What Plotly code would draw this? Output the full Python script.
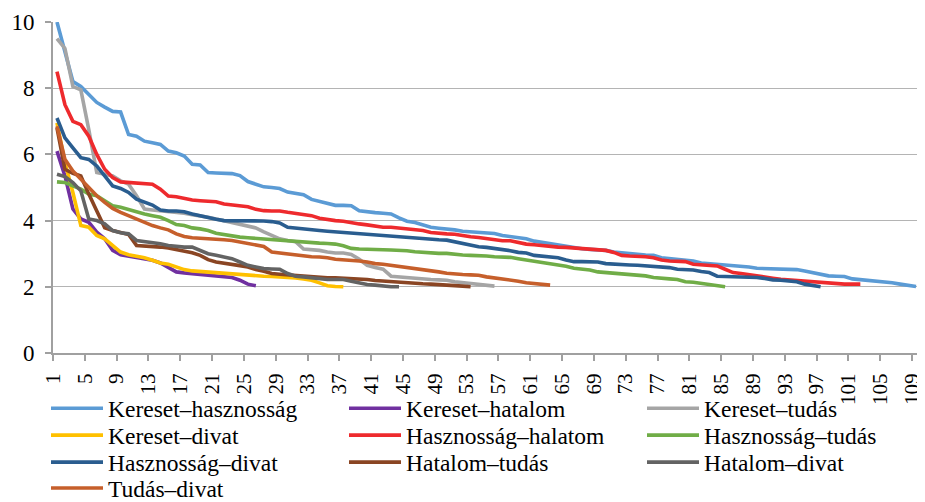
import plotly.graph_objects as go

series_names = ["Kereset–hasznosság", "Kereset–hatalom", "Kereset–tudás",
                "Kereset–divat", "Hasznosság–halatom", "Hasznosság–tudás",
                "Hasznosság–divat", "Hatalom–tudás", "Hatalom–divat", "Tudás–divat"]

kereset_hasznossag = [10.0, 9.05, 8.2, 8.05, 7.8, 7.57, 7.43, 7.3, 7.28, 6.6, 6.55, 6.4, 6.35, 6.3, 6.1, 6.05, 5.95, 5.7, 5.68, 5.45,
                      5.44, 5.43, 5.42, 5.36, 5.18, 5.1, 5.02, 5.0, 4.97, 4.86, 4.83, 4.78, 4.64, 4.58, 4.54, 4.46, 4.46, 4.45, 4.3, 4.26,
                      4.24, 4.22, 4.2, 4.08, 3.98, 3.94, 3.88, 3.8, 3.77, 3.75, 3.72, 3.68, 3.66, 3.64, 3.62, 3.61, 3.55, 3.52, 3.48, 3.45,
                      3.38, 3.34, 3.29, 3.26, 3.22, 3.18, 3.15, 3.13, 3.12, 3.1, 3.05, 3.02, 3.0, 2.98, 2.96, 2.95, 2.88, 2.85, 2.83, 2.8,
                      2.78, 2.72, 2.7, 2.68, 2.66, 2.65, 2.63, 2.6, 2.56, 2.55, 2.54, 2.53, 2.53, 2.52, 2.48, 2.43, 2.36, 2.33, 2.32, 2.31,
                      2.24, 2.22, 2.19, 2.17, 2.15, 2.12, 2.08, 2.04, 2.01]
kereset_hatalom = [6.1, 5.35, 4.35, 4.05, 3.95, 3.65, 3.45, 3.1, 2.97, 2.93, 2.9, 2.85, 2.8, 2.72, 2.58, 2.45, 2.42, 2.4, 2.38, 2.35,
                   2.33, 2.3, 2.28, 2.2, 2.08, 2.03]
kereset_tudas = [9.5, 9.2, 8.05, 7.95, 6.75, 5.45, 5.4, 5.35, 5.2, 5.1, 4.75, 4.35, 4.32, 4.3, 4.28, 4.25, 4.22, 4.18, 4.15, 4.1,
                 4.05, 4.0, 3.95, 3.9, 3.85, 3.78, 3.66, 3.55, 3.45, 3.4, 3.36, 3.14, 3.12, 3.1, 3.05, 3.02, 3.02, 2.98, 2.83, 2.65,
                 2.58, 2.53, 2.32, 2.3, 2.28, 2.25, 2.22, 2.22, 2.21, 2.2, 2.15, 2.12, 2.09, 2.07, 2.04, 2.02]
kereset_divat = [6.95, 5.75, 4.85, 3.85, 3.8, 3.55, 3.45, 3.25, 3.05, 2.97, 2.93, 2.88, 2.8, 2.72, 2.68, 2.6, 2.52, 2.48, 2.46, 2.44,
                 2.43, 2.41, 2.39, 2.38, 2.36, 2.34, 2.32, 2.31, 2.3, 2.29, 2.27, 2.24, 2.2, 2.12, 2.03, 2.01, 2.0]
hasznossag_halatom = [8.5, 7.5, 7.0, 6.9, 6.55, 6.0, 5.55, 5.3, 5.17, 5.15, 5.14, 5.13, 5.1, 4.95, 4.74, 4.72, 4.67, 4.62, 4.6, 4.59,
                      4.57, 4.5, 4.47, 4.44, 4.42, 4.34, 4.3, 4.29, 4.29, 4.25, 4.22, 4.18, 4.15, 4.07, 4.03, 4.0, 3.98, 3.93, 3.9, 3.87,
                      3.83, 3.8, 3.8, 3.77, 3.75, 3.72, 3.7, 3.64, 3.61, 3.6, 3.59, 3.54, 3.51, 3.49, 3.46, 3.41, 3.39, 3.39, 3.34, 3.29,
                      3.27, 3.24, 3.21, 3.2, 3.19, 3.17, 3.14, 3.12, 3.11, 3.1, 3.04, 2.95, 2.93, 2.93, 2.91, 2.88, 2.81, 2.78, 2.78, 2.76,
                      2.68, 2.66, 2.66, 2.63, 2.53, 2.43, 2.4, 2.36, 2.33, 2.3, 2.26, 2.23, 2.21, 2.2, 2.18, 2.16, 2.13, 2.1, 2.08, 2.08,
                      2.08, 2.08]
hasznossag_tudas = [5.17, 5.15, 5.05, 4.95, 4.8, 4.75, 4.6, 4.45, 4.4, 4.33, 4.27, 4.2, 4.15, 4.1, 4.0, 3.88, 3.85, 3.78, 3.75, 3.7,
                    3.62, 3.58, 3.52, 3.5, 3.48, 3.46, 3.44, 3.43, 3.42, 3.39, 3.36, 3.36, 3.34, 3.32, 3.31, 3.29, 3.24, 3.16, 3.14, 3.14,
                    3.14, 3.12, 3.11, 3.11, 3.09, 3.06, 3.04, 3.02, 3.01, 3.01, 2.98, 2.96, 2.95, 2.95, 2.93, 2.91, 2.9, 2.89, 2.85, 2.81,
                    2.78, 2.75, 2.71, 2.67, 2.62, 2.56, 2.53, 2.51, 2.45, 2.43, 2.4, 2.38, 2.36, 2.35, 2.33, 2.28, 2.25, 2.24, 2.22, 2.15,
                    2.14, 2.1, 2.07, 2.04, 2.0]
hasznossag_divat = [7.1, 6.5, 6.2, 5.9, 5.85, 5.65, 5.35, 5.05, 4.97, 4.85, 4.65, 4.55, 4.47, 4.32, 4.29, 4.29, 4.27, 4.2, 4.14, 4.1,
                    4.04, 4.0, 4.0, 4.0, 4.0, 3.99, 3.99, 3.97, 3.93, 3.8, 3.77, 3.75, 3.72, 3.7, 3.68, 3.66, 3.64, 3.62, 3.61, 3.59,
                    3.58, 3.56, 3.54, 3.51, 3.49, 3.47, 3.46, 3.44, 3.42, 3.41, 3.36, 3.29, 3.24, 3.21, 3.19, 3.16, 3.12, 3.09, 3.04, 3.02,
                    2.95, 2.93, 2.91, 2.88, 2.81, 2.76, 2.76, 2.76, 2.75, 2.7, 2.68, 2.68, 2.66, 2.65, 2.63, 2.6, 2.6, 2.58, 2.53, 2.53,
                    2.51, 2.46, 2.43, 2.32, 2.31, 2.31, 2.31, 2.3, 2.28, 2.25, 2.21, 2.2, 2.18, 2.15, 2.08, 2.05, 2.0]
hatalom_tudas = [6.8, 5.55, 5.43, 5.35, 4.8, 4.3, 3.78, 3.7, 3.65, 3.58, 3.25, 3.24, 3.22, 3.2, 3.17, 3.13, 3.08, 3.03, 2.95, 2.82,
                 2.75, 2.72, 2.68, 2.64, 2.6, 2.52, 2.47, 2.4, 2.38, 2.36, 2.34, 2.32, 2.3, 2.28, 2.27, 2.27, 2.26, 2.25, 2.24, 2.22,
                 2.19, 2.17, 2.16, 2.14, 2.12, 2.1, 2.09, 2.08, 2.07, 2.05, 2.04, 2.02, 2.0]
hatalom_divat = [5.4, 5.33, 5.15, 4.9, 4.05, 4.0, 3.9, 3.7, 3.63, 3.6, 3.4, 3.37, 3.33, 3.3, 3.25, 3.22, 3.2, 3.2, 3.1, 3.0,
                 2.95, 2.9, 2.85, 2.75, 2.65, 2.6, 2.55, 2.54, 2.53, 2.4, 2.32, 2.3, 2.27, 2.25, 2.22, 2.22, 2.22, 2.17, 2.12, 2.07,
                 2.05, 2.02, 2.0, 2.0]
tudas_divat = [6.85, 5.85, 5.5, 5.25, 5.0, 4.75, 4.55, 4.37, 4.25, 4.15, 4.05, 3.95, 3.85, 3.78, 3.72, 3.6, 3.52, 3.48, 3.47, 3.46,
               3.45, 3.42, 3.4, 3.35, 3.3, 3.27, 3.22, 3.05, 3.02, 2.98, 2.96, 2.93, 2.91, 2.9, 2.88, 2.83, 2.82, 2.81, 2.78, 2.75,
               2.7, 2.68, 2.65, 2.61, 2.58, 2.55, 2.53, 2.5, 2.45, 2.41, 2.38, 2.37, 2.36, 2.35, 2.3, 2.27, 2.24, 2.19, 2.17, 2.12,
               2.1, 2.07, 2.05]

x_tick_values = list(range(1, 110, 4))
x_tick_labels = [str(v) for v in x_tick_values]
y_tick_values = [0, 2, 4, 6, 8, 10]

all_series = [kereset_hasznossag, kereset_hatalom, kereset_tudas, kereset_divat, hasznossag_halatom,
              hasznossag_tudas, hasznossag_divat, hatalom_tudas, hatalom_divat, tudas_divat]
colors = ["#5B9BD5", "#7030A0", "#A5A5A5", "#FFC000", "#EE2A2D",
          "#70AD47", "#2A5D8F", "#8A4523", "#636363", "#C65F2B"]
legend_ids = ["legend", "legend", "legend", "legend2", "legend2", "legend2",
              "legend3", "legend3", "legend3", "legend4"]

FONT = "Liberation Serif"
fig = go.Figure()
for name, vals, col, lg in zip(series_names, all_series, colors, legend_ids):
    fig.add_trace(go.Scatter(x=list(range(1, len(vals) + 1)), y=vals, mode="lines", name=name,
                             line=dict(color=col, width=3.6), legend=lg))

# the page body has an 8px margin, so figure coordinates are page coordinates minus 8
W, H = 917, 494
plot_left, plot_top, plot_right, plot_bottom = 45, 14, 912, 345.5
pw = plot_right - plot_left
ph = plot_bottom - plot_top
row_y = [401, 428, 455, 481]

def leg(row):
    return dict(orientation="h", x=(38 - plot_left) / pw, xanchor="left", y=(plot_bottom - row_y[row]) / ph,
                yanchor="middle", entrywidth=231, entrywidthmode="pixels",
                font=dict(family=FONT, size=23.5, color="black"), bgcolor="rgba(0,0,0,0)",
                itemwidth=52, traceorder="normal")

fig.update_layout(
    width=W, height=H,
    margin=dict(l=plot_left, r=W - plot_right, t=plot_top, b=H - plot_bottom, autoexpand=False),
    paper_bgcolor="white", plot_bgcolor="white",
    font=dict(family=FONT, size=23, color="black"),
    showlegend=True,
    legend=leg(0), legend2=leg(1), legend3=leg(2), legend4=leg(3),
    xaxis=dict(range=[0.5, 109.5], tickmode="array", tickvals=x_tick_values, ticktext=x_tick_labels,
               tickangle=-90, ticks="outside", ticklen=0, ticklabelstandoff=10, ticklabelshift=-4,
               ticklabeloverflow="allow",
               showline=True, linecolor="#A0A0A0", linewidth=2, mirror=False,
               showgrid=False, zeroline=False,
               tickfont=dict(family=FONT, size=21, color="black"),
               minor=dict(tickmode="linear", tick0=0.5, dtick=4, ticks="outside", ticklen=6,
                          tickcolor="#A0A0A0", tickwidth=2, showgrid=False)),
    yaxis=dict(range=[0, 10], tickmode="array", tickvals=y_tick_values,
               ticks="outside", ticklen=6, tickcolor="#A0A0A0", tickwidth=2, ticklabelstandoff=6,
               showline=True, linecolor="#A0A0A0", linewidth=2, mirror=True,
               showgrid=True, gridcolor="#B4B4B4", gridwidth=1.3, zeroline=False,
               tickfont=dict(family=FONT, size=23, color="black")),
)

fig.write_html("out.html")
